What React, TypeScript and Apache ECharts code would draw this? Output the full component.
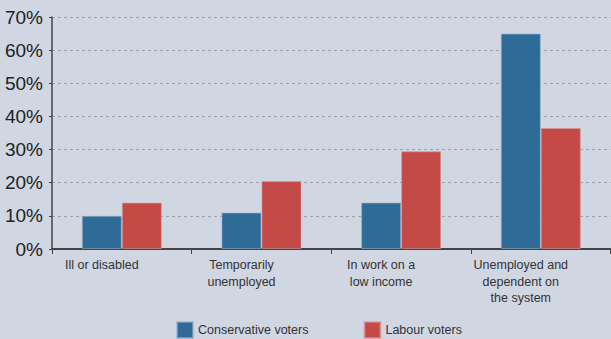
import React, { useEffect, useRef } from "react";
import * as echarts from "echarts";

const categories = [
  "Ill or disabled",
  "Temporarily\nunemployed",
  "In work on a\nlow income",
  "Unemployed and\ndependent on\nthe system",
];
const conservative = [10, 11, 14, 65];
const labour = [14, 20.5, 29.5, 36.5];
const seriesNames = ["Conservative voters", "Labour voters"];

export default function App() {
  const ref = useRef<HTMLDivElement>(null);
  useEffect(() => {
    document.body.style.margin = "0";
    const chart = echarts.init(ref.current!, null, { renderer: "svg" });
    const font = "'Liberation Sans', Arial, sans-serif";
    chart.setOption({
      animation: false,
      backgroundColor: "#d0d6e2",
      textStyle: { fontFamily: font },
      grid: { left: 52, right: 0, top: 17, bottom: 90, containLabel: false },
      legend: {
        left: 171,
        top: 316,
        itemWidth: 16,
        itemHeight: 16,
        itemGap: 55,
        icon: "rect",
        textStyle: { fontSize: 12.5, color: "#333", fontFamily: font },
        data: seriesNames,
      },
      xAxis: {
        type: "category",
        data: categories,
        axisLine: { lineStyle: { color: "#444", width: 2 } },
        axisTick: { show: true, length: 5, lineStyle: { color: "#444" } },
        axisLabel: {
          color: "#333",
          fontSize: 12.5,
          lineHeight: 16.5,
          margin: 8,
          padding: [0, 40, 0, 0],
          fontFamily: font,
        },
      },
      yAxis: {
        type: "value",
        min: 0,
        max: 70,
        interval: 10,
        axisLine: { show: true, lineStyle: { color: "#444", width: 1.5 } },
        axisTick: { show: true, length: 3, lineStyle: { color: "#444" } },
        axisLabel: {
          formatter: "{value}%",
          color: "#222",
          fontSize: 19,
          margin: 9,
          fontFamily: font,
        },
        splitLine: {
          show: true,
          lineStyle: { color: "#9ea3ad", type: [3, 3], width: 1 },
        },
      },
      series: [
        {
          name: seriesNames[0],
          type: "bar",
          data: conservative,
          barWidth: 40,
          barGap: "0%",
          itemStyle: {
            color: "#2f6b97",
            borderColor: "rgba(150,175,200,0.6)",
            borderWidth: 1,
          },
        },
        {
          name: seriesNames[1],
          type: "bar",
          data: labour,
          barWidth: 40,
          itemStyle: {
            color: "#c44a48",
            borderColor: "rgba(220,150,150,0.6)",
            borderWidth: 1,
          },
        },
      ],
    });
    return () => chart.dispose();
  }, []);
  return (
    <div
      ref={ref}
      style={{ position: "absolute", left: 0, top: 0, width: 611, height: 339 }}
    />
  );
}
